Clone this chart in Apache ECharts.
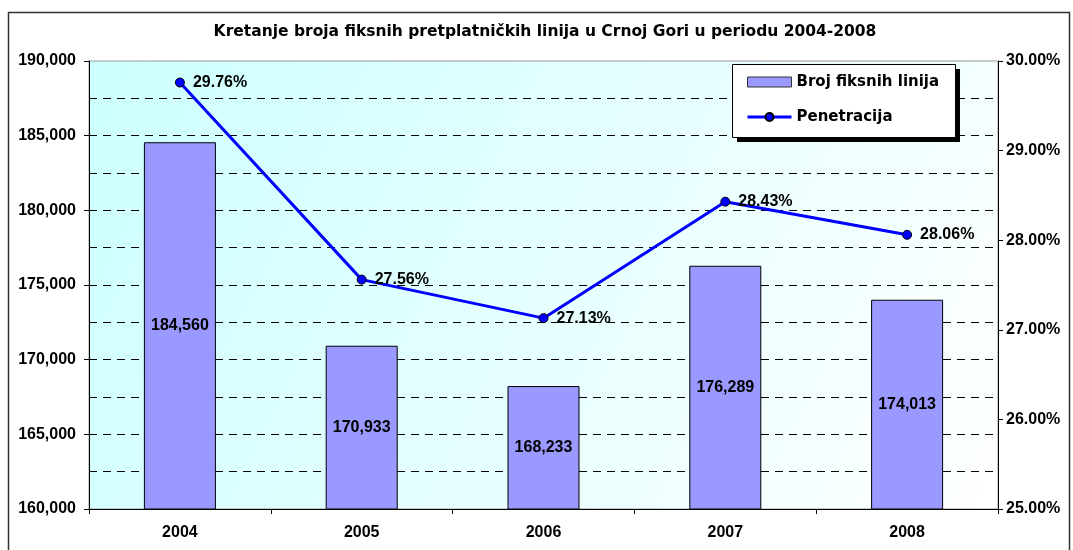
<!DOCTYPE html>
<html>
<head>
<meta charset="utf-8">
<script src="https://cdn.jsdelivr.net/npm/echarts@6/dist/echarts.min.js"></script>
<style>
  html, body { margin: 0; padding: 0; background: #fff; }
  #chart { width: 1073px; height: 550px; }
</style>
</head>
<body>
<div id="chart"></div>
<script>
const years = ['2004', '2005', '2006', '2007', '2008'];
const fixedLines = [184560, 170933, 168233, 176289, 174013];
const penetration = [29.76, 27.56, 27.13, 28.43, 28.06];

const font = '"Liberation Sans", Arial, sans-serif';
const wideFont = '"DejaVu Sans", Verdana, sans-serif';
const fmtThousands = v => String(v).replace(/\B(?=(\d{3})+(?!\d))/g, ',');
const boldText = {fontFamily: font, fontSize: 16, fontWeight: 'bold', color: '#000'};

const chart = echarts.init(document.getElementById('chart'));

chart.setOption({
    backgroundColor: '#fff',
    animation: false,
    textStyle: {fontFamily: font},
    title: {
        text: 'Kretanje broja fiksnih pretplatničkih linija u Crnoj Gori u periodu 2004-2008',
        left: 540,
        textAlign: 'center',
        top: 19,
        textStyle: {fontFamily: wideFont, fontSize: 15.5, fontWeight: 'bold', color: '#000'}
    },
    graphic: [{
        type: 'rect',
        shape: {x: 8.5, y: 12.5, width: 1061, height: 600},
        style: {fill: null, stroke: '#333', lineWidth: 1.5},
        silent: true
    }, {
        // legend box with its hard shadow
        type: 'rect',
        z: 10,
        shape: {x: 737, y: 69, width: 223, height: 73},
        style: {fill: '#000'},
        silent: true
    }, {
        type: 'rect',
        z: 11,
        shape: {x: 732.5, y: 64.5, width: 223, height: 73},
        style: {fill: '#fff', stroke: '#000', lineWidth: 1},
        silent: true
    }],
    legend: {
        left: 732,
        top: 64,
        z: 12,
        orient: 'vertical',
        padding: [9, 10, 10, 14],
        itemGap: 17,
        itemWidth: 44,
        itemHeight: 10,
        textStyle: {fontFamily: wideFont, fontSize: 15, fontWeight: 'bold', color: '#000', lineHeight: 18},
        data: [
            {name: 'Broj fiksnih linija', icon: 'rect', itemStyle: {borderColor: '#333', borderWidth: 1}},
            {name: 'Penetracija', lineStyle: {width: 3, color: '#0000ff'}}
        ]
    },
    grid: {
        left: 89,
        right: 75,
        top: 61,
        bottom: 41,
        show: true,
        borderColor: '#999',
        borderWidth: 1,
        backgroundColor: new echarts.graphic.LinearGradient(0, 0, 1, 1, [
            {offset: 0, color: '#ccffff'},
            {offset: 1, color: '#ffffff'}
        ])
    },
    xAxis: {
        type: 'category',
        data: years,
        boundaryGap: true,
        axisLine: {lineStyle: {color: '#000', width: 1}},
        axisTick: {show: true, length: 5, lineStyle: {color: '#000'}},
        axisLabel: Object.assign({margin: 16}, boldText)
    },
    yAxis: [{
        type: 'value',
        min: 160000,
        max: 190000,
        interval: 5000,
        axisLine: {show: true, lineStyle: {color: '#000'}},
        axisTick: {show: true, length: 5, lineStyle: {color: '#000'}},
        axisLabel: Object.assign({margin: 13, formatter: v => fmtThousands(v)}, boldText),
        splitLine: {
            show: true,
            showMinLine: false,
            showMaxLine: false,
            lineStyle: {color: '#000', type: [8, 6], width: 1}
        },
        minorTick: {show: false, splitNumber: 2},
        minorSplitLine: {show: true, lineStyle: {color: '#000', type: [8, 6], width: 1}}
    }, {
        type: 'value',
        min: 25,
        max: 30,
        interval: 1,
        position: 'right',
        axisLine: {show: true, lineStyle: {color: '#000'}},
        axisTick: {show: true, length: 5, lineStyle: {color: '#000'}},
        axisLabel: Object.assign({margin: 8, formatter: v => v.toFixed(2) + '%'}, boldText),
        splitLine: {show: false}
    }],
    series: [{
        name: 'Broj fiksnih linija',
        type: 'bar',
        data: fixedLines,
        barWidth: 72,
        itemStyle: {color: '#9999ff', borderColor: '#000', borderWidth: 1},
        label: Object.assign({
            show: true,
            position: 'inside',
            formatter: p => fmtThousands(p.value)
        }, boldText)
    }, {
        name: 'Penetracija',
        type: 'line',
        yAxisIndex: 1,
        data: penetration,
        symbol: 'circle',
        symbolSize: 9,
        lineStyle: {color: '#0000ff', width: 3},
        itemStyle: {color: '#0000ff', borderColor: '#000', borderWidth: 1},
        label: Object.assign({
            show: true,
            position: 'right',
            distance: 8,
            formatter: p => p.value.toFixed(2) + '%'
        }, boldText)
    }]
});
</script>
</body>
</html>
